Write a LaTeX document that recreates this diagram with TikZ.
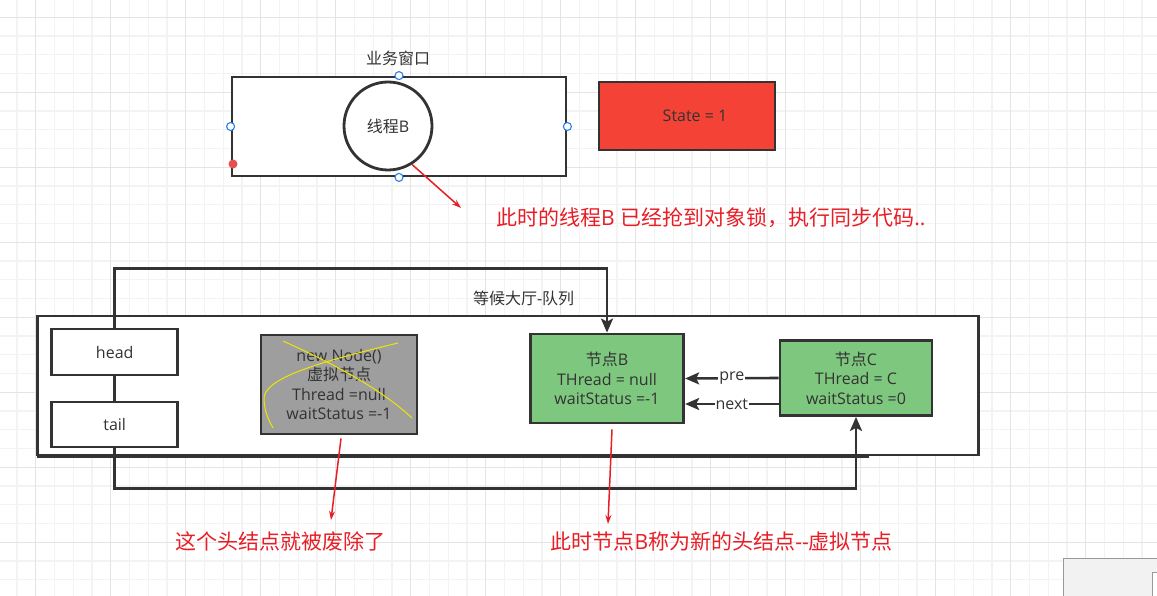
\documentclass[tikz,border=0pt]{standalone}
\usepackage{fontspec}
\setmainfont{Open Sans}
\newfontfamily\latinfont{Open Sans}
\newfontfamily\cjkfont{Noto Sans CJK SC}
% switch fonts between Latin and CJK characters
\newXeTeXintercharclass\cjkclass
\count255="4E00
\loop
  \XeTeXcharclass\count255=\cjkclass
  \ifnum\count255<"9FFF \advance\count255 by 1 \repeat
\XeTeXcharclass"FF0C=\cjkclass
\XeTeXinterchartokenstate=1
\XeTeXinterchartoks 0 \cjkclass = {\cjkfont}
\XeTeXinterchartoks 4095 \cjkclass = {\cjkfont}
\XeTeXinterchartoks \cjkclass 0 = {\latinfont}
\usetikzlibrary{arrows.meta,positioning,calc}
\definecolor{ink}{RGB}{51,51,51}
\definecolor{grass}{RGB}{126,199,126}
\definecolor{stone}{RGB}{158,158,158}
\definecolor{alarm}{RGB}{244,67,54}
\definecolor{remarkred}{RGB}{232,30,38}
\definecolor{dotred}{RGB}{232,80,80}
\definecolor{handleblue}{RGB}{40,130,235}
\definecolor{scribble}{RGB}{240,228,0}
\definecolor{gridminor}{RGB}{243,243,243}
\definecolor{gridmajor}{RGB}{228,228,228}
\tikzset{
  >={Stealth[length=14pt,width=12pt,inset=3pt]},
  every node/.style={font=\fontsize{16}{19.5}\selectfont,text=ink},
  box/.style={draw=ink,line width=2.8pt,fill=#1,align=center,inner sep=0pt},
  box/.default=white,
  link/.style={->,draw=ink,line width=2.6pt},
  remark/.style={-{Stealth[length=9pt,width=6pt]},draw=remarkred,line width=1.5pt},
  note/.style={font=\fontsize{21}{24}\selectfont,text=remarkred,anchor=west,inner sep=0pt},
  wire label/.style={fill=white,inner sep=1pt},
  handle/.style={draw=handleblue,fill=white,line width=1.1pt},
}

\begin{document}
\begin{tikzpicture}[x=1pt,y=-1pt]
  \useasboundingbox (0,0) rectangle (1157,596);
  \fill[white] (0,0) rectangle (1157,596);
  % grid
  \foreach \i in {0,...,61} \draw[gridminor,line width=1.2pt] (16.95+18.75*\i,0) -- (16.95+18.75*\i,596);
  \foreach \i in {0,...,31} \draw[gridminor,line width=1.2pt] (0,17.3+18.75*\i) -- (1157,17.3+18.75*\i);
  \foreach \i in {0,...,15} \draw[gridmajor,line width=1.2pt] (35.7+75*\i,0) -- (35.7+75*\i,596);
  \foreach \i in {0,...,7} \draw[gridmajor,line width=1.2pt] (0,17.3+75*\i) -- (1157,17.3+75*\i);

  % service window
  \node[box,minimum width=334pt,minimum height=99pt] (win) at (399,126.5) {};
  \node (winlabel) at (398,58) {业务窗口};
  \node[box,circle,minimum size=88pt] (thread) at (388,126) {线程B};
  \foreach \a in {north,south,east,west} \draw[handle] (win.\a) circle (4pt);
  \fill[dotred] (233,164) circle (4.5pt);
  \node[box=alarm,minimum width=176pt,minimum height=68pt] (state) at (687,116) {\hspace*{16pt}State = 1};

  % queue
  \node[box,minimum width=941.5pt,minimum height=139pt] (hall) at (508,385.5) {};
  \draw[ink,line width=2pt] (37,456.5) -- (869,456.5);
  \node (halllabel) at (523.6,298) {等候大厅-队列};
  \node[box,minimum width=126pt,minimum height=46pt] (head) at (114.7,352) {head};
  \node[box,minimum width=126pt,minimum height=45pt] (tail) at (114.7,424.5) {tail};
  \node[box=stone,minimum width=156pt,minimum height=99pt] (dummy) at (339,384.5) {new Node()\\虚拟节点\\Thread =null\\waitStatus =-1};
  \node[box=grass,minimum width=153.5pt,minimum height=89pt] (nodeB) at (607,378.5) {节点B\\THread = null\\waitStatus =-1};
  \node[box=grass,minimum width=152pt,minimum height=75pt] (nodeC) at (856,378) {节点C\\THread = C\\waitStatus =0};
  \draw[scribble,line width=1pt] (283,341) .. controls (330,362) and (380,388) .. (412,418);
  \draw[scribble,line width=1pt] (398,343) .. controls (320,362) and (262,378) .. (264,400) .. controls (265,415) and (270,422) .. (273,428);

  \draw[ink,line width=2.6pt] (head.south) -- (tail.north);
  \draw[link] (head.north) -- ++(0,-59) -| (nodeB.north);
  \draw[link] (tail.south) -- ++(0,40) -| (nodeC.south);
  \draw[link] (nodeC.west) -- node[wire label] {pre} (nodeB.east);
  \draw[link] ([yshift=-26pt]nodeC.west) coordinate (cnext) -- node[wire label] {next} (cnext -| nodeB.east);

  % remarks
  \coordinate (tip1) at (461,208);
  \coordinate (tip2) at (331,520);
  \coordinate (tip3) at (608,524);
  \draw[remark] (thread.-58) -- (tip1);
  \draw[remark] ([xshift=2pt,yshift=-3pt]dummy.south) -- (tip2);
  \draw[remark] ([xshift=5pt,yshift=-5pt]nodeB.south) -- (tip3);
  \node[note] (note1) at (496,218) {此时的线程B 已经抢到对象锁，执行同步代码..};
  \node[note] (note2) at (175.5,541.7) {这个头结点就被废除了};
  \node[note] (note3) at (550.5,541.7) {此时节点B称为新的头结点-{}-虚拟节点};

  % corner panel
  \draw[gray!80,fill=black!5,line width=0.8pt] (1063,558) rectangle (1170,610);
  \draw[gray!80,fill=white,line width=0.8pt] (1152,572) rectangle (1170,610);
\end{tikzpicture}
\end{document}
